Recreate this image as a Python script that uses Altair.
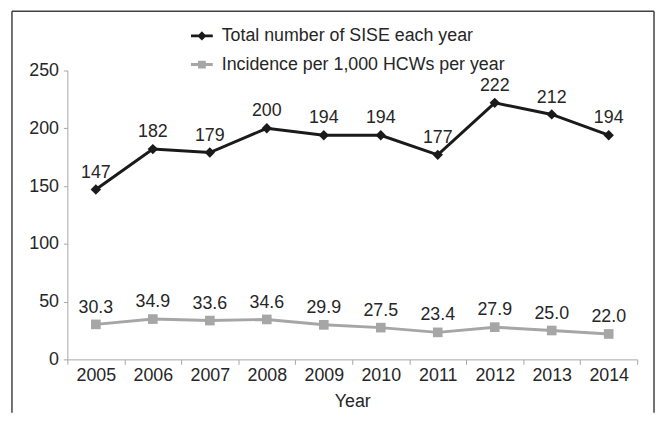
import altair as alt
import pandas as pd

years = ["2005", "2006", "2007", "2008", "2009", "2010", "2011", "2012", "2013", "2014"]
total_sise = [147, 182, 179, 200, 194, 194, 177, 222, 212, 194]
incidence = [30.3, 34.9, 33.6, 34.6, 29.9, 27.5, 23.4, 27.9, 25.0, 22.0]
series_names = ["Total number of SISE each year", "Incidence per 1,000 HCWs per year"]
y_ticks = [0, 50, 100, 150, 200, 250]

rows = []
for y, v in zip(years, total_sise):
    rows.append({"year": y, "series": series_names[0], "value": v, "label": f"{v:d}"})
for y, v in zip(years, incidence):
    rows.append({"year": y, "series": series_names[1], "value": v, "label": f"{v:.1f}"})
df = pd.DataFrame(rows)

FONT = "Liberation Sans"
TXT = "#262626"
colors = ["#1a1a1a", "#a6a6a6"]
# legend glyphs: short line with marker
legend_shapes = [
    "M-1,-0.136H1V0.136H-1Z M0,-0.42L0.42,0L0,0.42L-0.42,0Z",
    "M-1,-0.136H1V0.136H-1Z M-0.36,-0.36H0.36V0.36H-0.36Z",
]
marker_shapes = ["diamond", "square"]

x_enc = alt.X("year:N", sort=years,
              scale=alt.Scale(type="band", paddingInner=0, paddingOuter=0),
              axis=alt.Axis(title="Year", labelAngle=0, tickBand="extent", tickSize=5,
                            labelPadding=2, titlePadding=9))
y_enc = alt.Y("value:Q", scale=alt.Scale(domain=[0, 250], nice=False),
              axis=alt.Axis(title=None, values=y_ticks, tickSize=4, labelPadding=5, grid=False))

base = alt.Chart(df)

layers = []
for name, col, shp, sz in zip(series_names, colors, marker_shapes, [110, 95]):
    sub = base.transform_filter(alt.datum.series == name)
    layers.append(sub.mark_line(strokeWidth=3, color=col).encode(x=x_enc, y=y_enc))
    layers.append(sub.mark_point(filled=True, size=sz, shape=shp, color=col, opacity=1)
                  .encode(x=x_enc, y=y_enc))

# points placed outside the view (clipped) that only carry the legend
legend_layer = base.mark_point(filled=True, opacity=1, size=484, clip=True).encode(
    x=x_enc, y=alt.value(-3000),
    color=alt.Color("series:N", scale=alt.Scale(domain=series_names, range=colors),
                    legend=alt.Legend(orient="none", legendX=125, legendY=-46, title=None,
                                      labelFontSize=18, labelFont=FONT, labelColor=TXT,
                                      symbolSize=484, labelOffset=9, rowPadding=9, padding=0,
                                      labelLimit=500, symbolOpacity=1, symbolStrokeWidth=0)),
    shape=alt.Shape("series:N", scale=alt.Scale(domain=series_names, range=legend_shapes)),
)

labels = base.mark_text(dy=-17, fontSize=18, font=FONT, color=TXT).encode(
    x=x_enc, y=y_enc, text="label:N",
)

one = alt.Chart(pd.DataFrame({"k": [0]}))
frame_color = "#404040"
frame_left = one.mark_rule(color=frame_color, strokeWidth=1.5).encode(
    x=alt.value(-56), y=alt.value(-60), y2=alt.value(346))
frame_right = one.mark_rule(color=frame_color, strokeWidth=1.5).encode(
    x=alt.value(593), y=alt.value(-60), y2=alt.value(346))
frame_top = one.mark_rule(color=frame_color, strokeWidth=1.5).encode(
    x=alt.value(-56), x2=alt.value(593), y=alt.value(-60))

chart = alt.layer(*layers, legend_layer, labels, frame_left, frame_right, frame_top).properties(
    width=576, height=292,
    autosize=alt.AutoSizeParams(type="none"),
    padding={"left": 60, "top": 61, "right": 18, "bottom": 53},
).configure_view(stroke=None).configure_axis(
    labelFont=FONT, labelFontSize=18, labelColor=TXT,
    titleFont=FONT, titleFontSize=18, titleColor=TXT, titleFontWeight="normal",
    domainColor="#a6a6a6", tickColor="#a6a6a6", domainWidth=1, tickWidth=1,
)

chart.save("out.html", embed_options={"renderer": "svg", "actions": False})
